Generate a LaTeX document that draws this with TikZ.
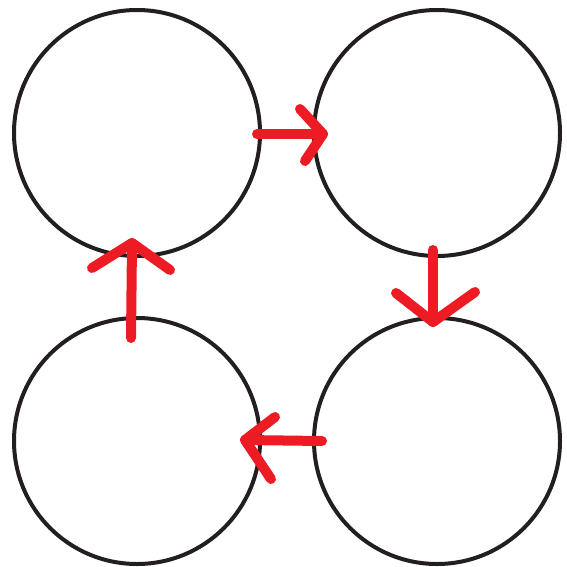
\documentclass[tikz,border=0pt]{standalone}
\usetikzlibrary{calc}
\definecolor{flowred}{HTML}{ED1C24}
\definecolor{ringblack}{HTML}{231F20}
\tikzset{ring/.style={draw=ringblack,line width=4pt,circle,minimum size=246pt,inner sep=0pt,outer sep=0pt},
  flow/.style={draw=flowred,line width=10pt,line cap=round,line join=round}}

\begin{document}
\begin{tikzpicture}[x=1pt,y=-1pt]
\useasboundingbox (0,0) rectangle (566,567);
\node[ring] (tl) at (137,133) {};\node[ring] (tr) at (437,133) {};
\node[ring] (bl) at (137,441) {};\node[ring] (br) at (437,441) {};
% clockwise arrows
\coordinate (s1) at ($(tl.east)+(-3,1)$);\coordinate (t1) at ($(tr.west)+(9,1)$);
\coordinate (s2) at ($(tr.south)+(-4,-6)$);\coordinate (t2) at ($(br.north)+(-4,4)$);
\coordinate (s3) at ($(br.west)+(8,0)$);\coordinate (t3) at ($(bl.east)+(-15,-1)$);
\coordinate (s4) at ($(bl.north)+(-6,20)$);\coordinate (t4) at ($(tl.south)+(-5,-13)$);
\draw[flow] (s1)--(t1);\draw[flow] ($(t1)+(-23,-25)$)--(t1)--($(t1)+(-18,27)$);
\draw[flow] (s2)--(t2);\draw[flow] ($(t2)+(-37,-29)$)--(t2)--($(t2)+(42,-30)$);
\draw[flow] (s3)--(t3);\draw[flow] ($(t3)+(30,-23)$)--(t3)--($(t3)+(26,39)$);
\draw[flow] (s4)--(t4);\draw[flow] ($(t4)+(-40,25)$)--(t4)--($(t4)+(38,27)$);
\end{tikzpicture}
\end{document}
